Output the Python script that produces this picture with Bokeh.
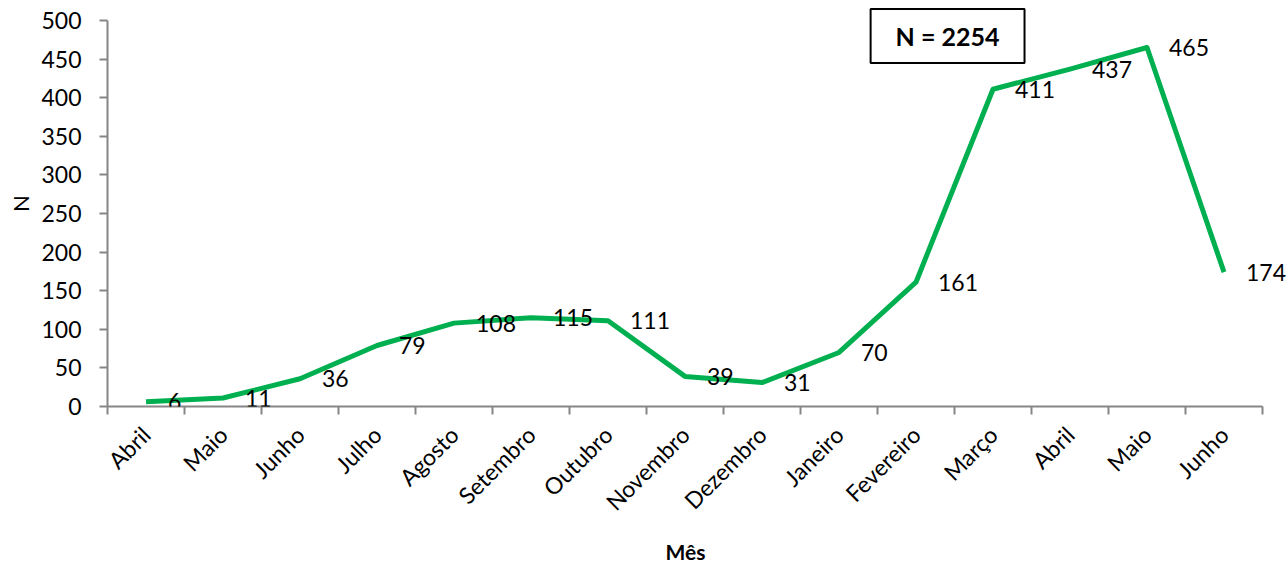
from math import pi
from bokeh.plotting import figure
from bokeh.models import ColumnDataSource, FixedTicker, Range1d, Label, LabelSet, Title
from bokeh.core.properties import value
from bokeh.embed import file_html
from bokeh.resources import INLINE

months = ["Abril", "Maio", "Junho", "Julho", "Agosto", "Setembro", "Outubro",
          "Novembro", "Dezembro", "Janeiro", "Fevereiro", "Março", "Abril", "Maio", "Junho"]
counts = [6, 11, 36, 79, 108, 115, 111, 39, 31, 70, 161, 411, 437, 465, 174]
y_ticks = [0, 50, 100, 150, 200, 250, 300, 350, 400, 450, 500]
total_label = "N = 2254"
x_title = "Mês"
y_title = "N"

xs = list(range(len(months)))
src = ColumnDataSource(dict(x=xs, y=counts, lbl=[str(c) for c in counts]))

FONT = "Lato"
PX_PER_CAT = 77.0
PX_PER_UNIT = 386.0 / 500.0
FRAME_W = 1181
FRAME_H = 406

p = figure(frame_width=FRAME_W, frame_height=FRAME_H, output_backend="svg", toolbar_location=None,
           x_range=Range1d(-0.5, -0.5 + FRAME_W / PX_PER_CAT),
           y_range=Range1d(0, FRAME_H / PX_PER_UNIT),
           min_border_left=107, min_border_right=0, min_border_top=0, min_border_bottom=157)
p.outline_line_color = None
p.xgrid.grid_line_color = None
p.ygrid.grid_line_color = None
p.background_fill_color = "white"
p.border_fill_color = "white"

p.line("x", "y", source=src, line_color="#00B050", line_width=5, line_join="round")
labels = LabelSet(x="x", y="y", text="lbl", source=src, x_offset=22, text_baseline="middle",
                  text_align="left", text_font=value(FONT), text_font_size="23px",
                  text_color="#000000")
p.add_layout(labels)

# x axis
xa = p.xaxis[0]
xa.bounds = (-0.5, len(months) - 0.5)
xa.ticker = FixedTicker(ticks=xs, minor_ticks=[i - 0.5 for i in range(len(months) + 1)])
xa.major_label_overrides = {i: m for i, m in enumerate(months)}
xa.major_label_orientation = pi / 4
xa.major_tick_line_color = None
xa.minor_tick_line_color = "#868686"
xa.minor_tick_out = 8
xa.minor_tick_in = 0
xa.minor_tick_line_width = 2
xa.axis_line_color = "#868686"
xa.axis_line_width = 2
xa.major_label_text_font = FONT
xa.major_label_text_font_size = "23px"
xa.major_label_text_color = "#000000"
xa.major_label_standoff = 16

# y axis
ya = p.yaxis[0]
ya.bounds = (0, 500)
ya.ticker = FixedTicker(ticks=y_ticks)
ya.minor_tick_line_color = None
ya.major_tick_line_color = "#868686"
ya.major_tick_line_width = 2
ya.major_tick_out = 8
ya.major_tick_in = 0
ya.axis_line_color = "#868686"
ya.axis_line_width = 2
ya.major_label_text_font = FONT
ya.major_label_text_font_size = "23px"
ya.major_label_text_color = "#000000"
ya.major_label_standoff = 18
ya.axis_label = y_title
ya.axis_label_text_font = FONT
ya.axis_label_text_font_style = "normal"
ya.axis_label_text_font_size = "22px"
ya.axis_label_text_color = "#000000"
ya.axis_label_standoff = 4

xt = Title(text=x_title, align="left", offset=558, text_font=FONT, text_font_style="bold",
           text_font_size="21px", text_color="#000000", standoff=16)
p.add_layout(xt, "below")

box = Label(x=10.41, y=480, text=total_label, text_font=FONT, text_font_style="bold",
            text_font_size="25px", text_color="#000000", text_align="center",
            text_baseline="middle", border_line_color="#000000", border_line_width=2,
            background_fill_color="white", padding=(25, 12))
p.add_layout(box)

open("out.html", "w").write(file_html(p, INLINE))
